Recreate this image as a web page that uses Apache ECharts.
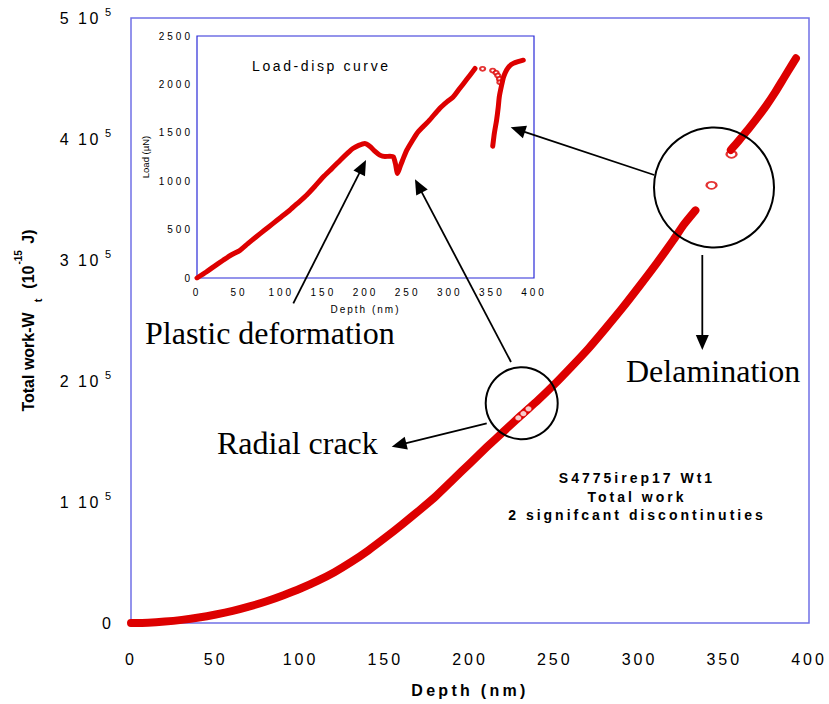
<!DOCTYPE html>
<html><head><meta charset="utf-8">
<script src="https://cdn.jsdelivr.net/npm/echarts@6/dist/echarts.min.js"></script>
<style>html,body{margin:0;padding:0;background:#fff}#c{width:829px;height:704px}</style>
</head><body><div id="c"></div>
<script>
// ---- Main chart: total work W_t vs depth ----
const workDepth1 = [0,10,20,30,40,50,60,70,80,90,100,110,120,130,140,150,160,170,180,190,200,210,220,230,240,250,260,270,280,290,300,310,320,326,333];
const workValue1 = [0,300,1200,2600,4500,7000,10000,13700,18000,23000,28500,34800,42000,50500,60000,70500,81500,93000,105000,118500,132000,145500,158500,171500,184000,197500,212000,227000,243500,260500,278500,297000,316500,329000,341000];
const workCrackDepth = [228.5,231.5,234.5];
const workCrackValue = [169500,173000,177000];
const workJumpDepth = [342.5,354.3];
const workJumpValue = [361700,387400];
const workDepth2 = [353.9,357,360,365,370,375,380,385,390,392.3];
const workValue2 = [391000,396000,401000,409500,418500,428000,438500,450000,461500,466700];

// ---- Inset: load-displacement curve ----
const loadDepth1 = [0,11,20,31,40,51,60,70,80,90,100,110,120,130,140,150,160,170,180,185,192,199,205,211,217,223,229,233,235.5,238,241,244,249,255,261,268,276,288,297,304,312,320,328,330];
const loadValue1 = [0,62,118,183,235,286,352,424,493,562,631,700,777,855,948,1045,1130,1217,1300,1338,1370,1390,1362,1310,1269,1255,1258,1252,1183,1079,1148,1217,1321,1410,1493,1560,1631,1752,1822,1869,1960,2050,2141,2165];
const loadOpenDepth = [339,351,355,357,359,359.5];
const loadOpenValue = [2161,2143,2120,2092,2057,2022];
const loadDepth2 = [351,353,355.6,357.5,358.8,361.6,364,367.5,371,375.4,381,387.3];
const loadValue2 = [1362,1500,1631,1760,1872,1993,2080,2148,2190,2217,2235,2250];

// ---- Axis ticks ----
const mainXTicks = [0,50,100,150,200,250,300,350,400];
const mainYTicks = [0,100000,200000,300000,400000,500000];
const insetXTicks = [0,50,100,150,200,250,300,350,400];
const insetYTicks = [0,500,1000,1500,2000,2500];

// ---- Texts ----
const insetTitle = 'Load-disp curve';
const infoLines = ['S4775irep17 Wt1','Total work','2 signifcant discontinuties'];
const annPlastic = 'Plastic deformation';
const annRadial = 'Radial crack';
const annDelam = 'Delamination';

const pairs = (xs, ys) => xs.map((x, i) => [x, ys[i]]);
const RED = '#dd0000';
const SANS = 'Liberation Sans, Arial, sans-serif';
const SERIF = 'Liberation Serif, Times New Roman, serif';

function arrow(x1, y1, x2, y2) {
  const L = 15, W = 6.5;
  const dx = x2 - x1, dy = y2 - y1, len = Math.hypot(dx, dy), ux = dx / len, uy = dy / len;
  const bx = x2 - ux * L, by = y2 - uy * L;
  return [
    {type: 'line', z: 100, shape: {x1, y1, x2: bx + ux * 2, y2: by + uy * 2}, style: {stroke: '#000', lineWidth: 1.8}},
    {type: 'polygon', z: 100, shape: {points: [[x2, y2], [bx - uy * W, by + ux * W], [bx + uy * W, by - ux * W]]}, style: {fill: '#000'}}
  ];
}

const chart = echarts.init(document.getElementById('c'), null, {renderer: 'svg'});
const option = {
  animation: false,
  backgroundColor: '#fff',
  grid: [
    {left: 131, top: 18, width: 678, height: 605, show: true, borderColor: '#7070e6', borderWidth: 1.5, containLabel: false},
    {left: 197, top: 36, width: 337, height: 242, show: true, borderColor: '#2a2ad8', borderWidth: 1.2, containLabel: false}
  ],
  xAxis: [
    {type: 'value', gridIndex: 0, min: mainXTicks[0], max: mainXTicks[mainXTicks.length - 1], interval: mainXTicks[1] - mainXTicks[0],
     axisLine: {show: false}, axisTick: {show: false}, splitLine: {show: false},
     axisLabel: {margin: 28, fontSize: 16, color: '#000', fontFamily: SANS, formatter: v => String(v)},
     name: 'Depth (nm)', nameLocation: 'middle', nameGap: 59,
     nameTextStyle: {fontSize: 16, fontWeight: 'bold', color: '#000', fontFamily: SANS}},
    {type: 'value', gridIndex: 1, min: insetXTicks[0], max: insetXTicks[insetXTicks.length - 1], interval: insetXTicks[1] - insetXTicks[0],
     axisLine: {show: false}, axisTick: {show: false}, splitLine: {show: false},
     axisLabel: {margin: 9, fontSize: 10, color: '#000', fontFamily: SANS, formatter: v => String(v)},
     name: 'Depth (nm)', nameLocation: 'middle', nameGap: 26,
     nameTextStyle: {fontSize: 10, color: '#000', fontFamily: SANS}}
  ],
  yAxis: [
    {type: 'value', gridIndex: 0, min: mainYTicks[0], max: mainYTicks[mainYTicks.length - 1], interval: mainYTicks[1] - mainYTicks[0],
     axisLine: {show: false}, axisTick: {show: false}, splitLine: {show: false},
     axisLabel: {margin: 20, color: '#000', fontFamily: SANS,
       formatter: v => v === 0 ? '{z|0}' : '{a|' + (v / 1e5) + ' 10}{s|5}',
       rich: {
         z: {fontSize: 16, fontFamily: SANS, color: '#000'},
         a: {fontSize: 16, fontFamily: SANS, color: '#000', lineHeight: 24},
         s: {fontSize: 11, fontFamily: SANS, color: '#000', verticalAlign: 'top', lineHeight: 24, padding: [0, 0, 0, 4]}
       }},
     name: '{b|Total work-W}{u|t}{b|(10}{p|-15}{b| J)}', nameLocation: 'middle', nameGap: 88,
     nameTextStyle: {color: '#000', fontFamily: SANS,
       rich: {
         b: {fontSize: 16, fontWeight: 'bold', fontFamily: SANS, color: '#000', lineHeight: 30},
         u: {fontSize: 11, fontWeight: 'bold', fontFamily: SANS, color: '#000', verticalAlign: 'bottom', lineHeight: 30, padding: [0, 10, 0, 10]},
         p: {fontSize: 10, fontWeight: 'bold', fontFamily: SANS, color: '#000', verticalAlign: 'top', lineHeight: 30, padding: [0, 2, 0, 1]}
       }}},
    {type: 'value', gridIndex: 1, min: insetYTicks[0], max: insetYTicks[insetYTicks.length - 1], interval: insetYTicks[1] - insetYTicks[0],
     axisLine: {show: false}, axisTick: {show: false}, splitLine: {show: false},
     axisLabel: {margin: 4, fontSize: 10, color: '#000', fontFamily: SANS, formatter: v => String(v)},
     name: 'Load (µN)', nameLocation: 'middle', nameGap: 47,
     nameTextStyle: {fontSize: 9.5, color: '#000', fontFamily: SANS}}
  ],
  series: [
    {type: 'line', xAxisIndex: 0, yAxisIndex: 0, data: pairs(workDepth1, workValue1), showSymbol: false, smooth: 0.2,
     lineStyle: {color: RED, width: 8, cap: 'round', join: 'round'}, silent: true},
    {type: 'scatter', xAxisIndex: 0, yAxisIndex: 0, data: pairs(workCrackDepth, workCrackValue), symbol: 'circle', symbolSize: [7, 6],
     itemStyle: {color: '#fff', borderColor: RED, borderWidth: 1}, silent: true, z: 3},
    {type: 'scatter', xAxisIndex: 0, yAxisIndex: 0, data: pairs(workJumpDepth, workJumpValue), symbol: 'emptyCircle', symbolSize: [10, 7],
     itemStyle: {color: RED, borderColor: RED, borderWidth: 1.3}, silent: true},
    {type: 'line', xAxisIndex: 0, yAxisIndex: 0, data: pairs(workDepth2, workValue2), showSymbol: false, smooth: 0.2,
     lineStyle: {color: RED, width: 8, cap: 'round', join: 'round'}, silent: true},
    {type: 'line', xAxisIndex: 1, yAxisIndex: 1, data: pairs(loadDepth1, loadValue1), showSymbol: false, smooth: 0.2,
     lineStyle: {color: RED, width: 5, cap: 'round', join: 'round'}, silent: true},
    {type: 'scatter', xAxisIndex: 1, yAxisIndex: 1, data: pairs(loadOpenDepth, loadOpenValue), symbol: 'emptyCircle', symbolSize: [5, 4],
     itemStyle: {color: RED, borderColor: RED, borderWidth: 1}, silent: true},
    {type: 'line', xAxisIndex: 1, yAxisIndex: 1, data: pairs(loadDepth2, loadValue2), showSymbol: false, smooth: 0.2,
     lineStyle: {color: RED, width: 5, cap: 'round', join: 'round'}, silent: true}
  ],
  graphic: [
    {type: 'text', z: 100, left: 252, top: 59, style: {text: insetTitle, fontSize: 14, fontFamily: SANS, fill: '#000'}},
    {type: 'text', z: 100, x: 637, y: 478, style: {text: infoLines[0], fontSize: 14, fontWeight: 'bold', fontFamily: SANS, fill: '#000', align: 'center', verticalAlign: 'middle'}},
    {type: 'text', z: 100, x: 637, y: 496.5, style: {text: infoLines[1], fontSize: 14, fontWeight: 'bold', fontFamily: SANS, fill: '#000', align: 'center', verticalAlign: 'middle'}},
    {type: 'text', z: 100, x: 637, y: 515, style: {text: infoLines[2], fontSize: 14, fontWeight: 'bold', fontFamily: SANS, fill: '#000', align: 'center', verticalAlign: 'middle'}},
    {type: 'text', z: 100, x: 145, y: 333, style: {text: annPlastic, fontSize: 32, lineHeight: 24, fontFamily: SERIF, fill: '#000', align: 'left', verticalAlign: 'middle'}},
    {type: 'text', z: 100, x: 217, y: 443, style: {text: annRadial, fontSize: 32, lineHeight: 24, fontFamily: SERIF, fill: '#000', align: 'left', verticalAlign: 'middle'}},
    {type: 'text', z: 100, x: 626, y: 371, style: {text: annDelam, fontSize: 32, lineHeight: 24, fontFamily: SERIF, fill: '#000', align: 'left', verticalAlign: 'middle'}},
    {type: 'circle', z: 100, shape: {cx: 521.7, cy: 403.2, r: 36}, style: {fill: 'none', stroke: '#000', lineWidth: 2}},
    {type: 'circle', z: 100, shape: {cx: 714, cy: 187.5, r: 60}, style: {fill: 'none', stroke: '#000', lineWidth: 2}},
    ...arrow(654.3, 175, 510.7, 127.3),
    ...arrow(702.3, 255, 702.3, 350),
    ...arrow(511, 362, 415, 179.3),
    ...arrow(486.7, 423.3, 391.7, 446.7),
    ...arrow(293.3, 303.3, 366, 160)
  ]
};
chart.setOption(option);

const spacingByText = {'Load-disp curve': 2.6, 'S4775irep17 Wt1': 3, 'Total work': 3, '2 signifcant discontinuties': 3};
function applySpacing() {
  document.querySelectorAll('#c text').forEach(t => {
    const s = t.textContent;
    const cs = getComputedStyle(t);
    const fs = parseFloat(cs.fontSize);
    const anchor = t.getAttribute('text-anchor') || cs.textAnchor;
    let ls = 0;
    if (spacingByText[s] !== undefined) ls = spacingByText[s];
    else if (s === 'Depth (nm)') ls = fs > 12 ? 3.3 : 2;
    else if (/^\d 10$/.test(s) && anchor === 'end') ls = 2.5;
    else if (/^\d+$/.test(s)) {
      if (fs > 15 && anchor === 'middle') ls = 3;
      else if (fs < 11) ls = 3;
    }
    if (ls) t.style.letterSpacing = ls + 'px';
  });
}
chart.on('finished', applySpacing);
setTimeout(applySpacing, 100);
setTimeout(applySpacing, 500);
</script></body></html>
